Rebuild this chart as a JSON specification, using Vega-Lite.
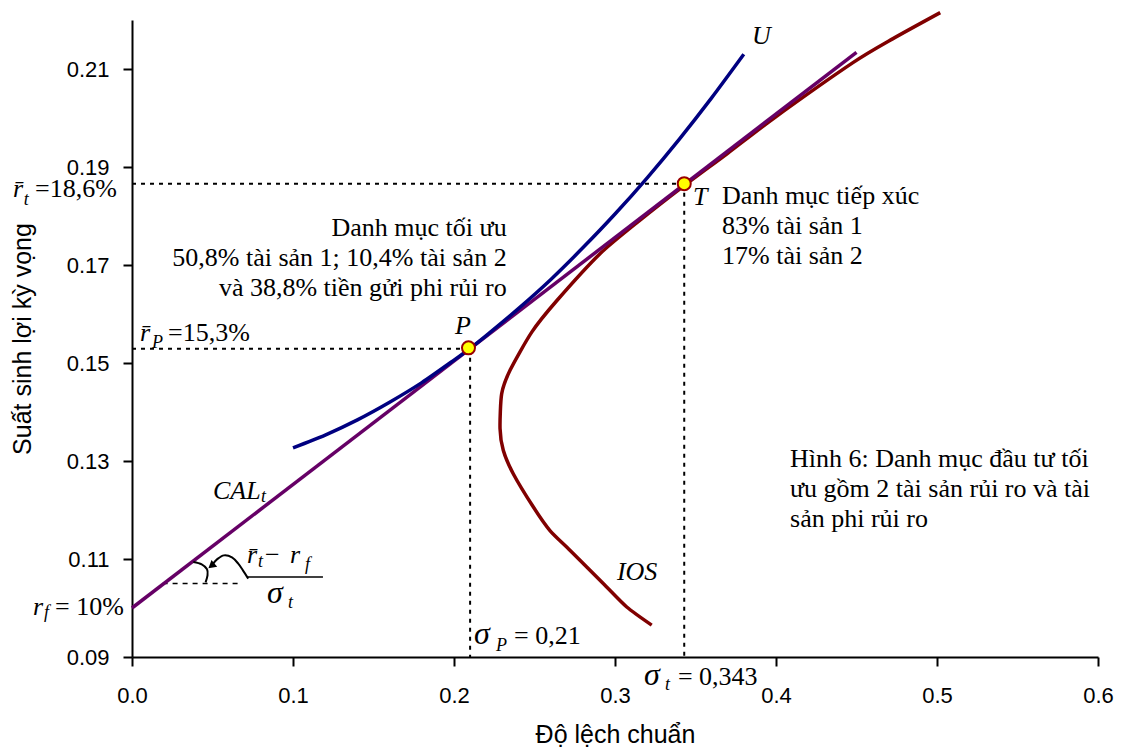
{
  "$schema": "https://vega.github.io/schema/vega-lite/v6.json",
  "width": 966,
  "height": 637,
  "autosize": "none",
  "padding": {"left": 132, "top": 20, "right": 24, "bottom": 94},
  "background": "white",
  "config": {"view": {"stroke": null}},
  "datasets": {
    "ios": [
      {"sd": 0.3228, "ret": 0.0965}, {"sd": 0.3073, "ret": 0.1002}, {"sd": 0.2927, "ret": 0.1050},
      {"sd": 0.2720, "ret": 0.1118}, {"sd": 0.2596, "ret": 0.1158}, {"sd": 0.2493, "ret": 0.1206},
      {"sd": 0.2368, "ret": 0.1274}, {"sd": 0.2306, "ret": 0.1322}, {"sd": 0.2286, "ret": 0.1366},
      {"sd": 0.2296, "ret": 0.1437}, {"sd": 0.2348, "ret": 0.1485}, {"sd": 0.2483, "ret": 0.1563},
      {"sd": 0.2638, "ret": 0.1627}, {"sd": 0.2907, "ret": 0.1723}, {"sd": 0.3150, "ret": 0.1790},
      {"sd": 0.3430, "ret": 0.1862}, {"sd": 0.3700, "ret": 0.1928}, {"sd": 0.3980, "ret": 0.1998},
      {"sd": 0.4478, "ret": 0.2113}, {"sd": 0.4727, "ret": 0.2162}, {"sd": 0.5020, "ret": 0.2215}
    ],
    "cal": [{"sd": 0, "ret": 0.1}, {"sd": 0.45, "ret": 0.2134}],
    "u": [
      {"sd": 0.10, "ret": 0.1327}, {"sd": 0.12, "ret": 0.1353}, {"sd": 0.14, "ret": 0.1384},
      {"sd": 0.16, "ret": 0.1420}, {"sd": 0.18, "ret": 0.1460}, {"sd": 0.20, "ret": 0.1506},
      {"sd": 0.21, "ret": 0.1530}, {"sd": 0.22, "ret": 0.1556}, {"sd": 0.24, "ret": 0.1611},
      {"sd": 0.26, "ret": 0.1670}, {"sd": 0.28, "ret": 0.1735}, {"sd": 0.30, "ret": 0.1804},
      {"sd": 0.32, "ret": 0.1878}, {"sd": 0.34, "ret": 0.1957}, {"sd": 0.36, "ret": 0.2041},
      {"sd": 0.38, "ret": 0.2130}
    ],
    "dots": [
      {"seg": "a", "sd": 0, "ret": 0.1866}, {"seg": "a", "sd": 0.343, "ret": 0.1866},
      {"seg": "b", "sd": 0.343, "ret": 0.1866}, {"seg": "b", "sd": 0.343, "ret": 0.09},
      {"seg": "c", "sd": 0, "ret": 0.1529}, {"seg": "c", "sd": 0.209, "ret": 0.1529},
      {"seg": "d", "sd": 0.21, "ret": 0.1529}, {"seg": "d", "sd": 0.21, "ret": 0.09}
    ],
    "slopedash": [{"sd": 0.019, "ret": 0.105}, {"sd": 0.066, "ret": 0.105}],
    "ann": [
      {"seg": "arc", "k": 1, "sd": 0.0381, "ret": 0.10937},
      {"seg": "arc", "k": 2, "sd": 0.0433, "ret": 0.10890},
      {"seg": "arc", "k": 3, "sd": 0.0466, "ret": 0.10789},
      {"seg": "arc", "k": 4, "sd": 0.0469, "ret": 0.10666},
      {"seg": "arc", "k": 5, "sd": 0.0457, "ret": 0.10523},
      {"seg": "arr", "k": 1, "sd": 0.0722, "ret": 0.10599},
      {"seg": "arr", "k": 2, "sd": 0.0689, "ret": 0.10768},
      {"seg": "arr", "k": 3, "sd": 0.0660, "ret": 0.10905},
      {"seg": "arr", "k": 4, "sd": 0.0621, "ret": 0.11033},
      {"seg": "arr", "k": 5, "sd": 0.0571, "ret": 0.11074},
      {"seg": "arr", "k": 6, "sd": 0.0528, "ret": 0.10992},
      {"seg": "arr", "k": 7, "sd": 0.0503, "ret": 0.10900}
    ],
    "bar": [{"sd": 0.0720, "ret": 0.10632}, {"sd": 0.1186, "ret": 0.10632}],
    "head": [{"sd": 0.0493, "ret": 0.10860}],
    "pts": [{"name": "P", "sd": 0.209, "ret": 0.1531}, {"name": "T", "sd": 0.343, "ret": 0.1866}],
    "italic": [
      {"label": "r̄", "sd": -0.0739, "ret": 0.18395},
      {"label": "r", "sd": -0.0615, "ret": 0.0985},
      {"label": "r̄", "sd": 0.0050, "ret": 0.15459},
      {"label": "CAL", "sd": 0.0503, "ret": 0.12230},
      {"label": "U", "sd": 0.3851, "ret": 0.21510},
      {"label": "T", "sd": 0.3484, "ret": 0.18232},
      {"label": "P", "sd": 0.2006, "ret": 0.15601},
      {"label": "IOS", "sd": 0.3012, "ret": 0.10564},
      {"label": "r̄", "sd": 0.0714, "ret": 0.10911},
      {"label": "r", "sd": 0.0981, "ret": 0.10911}
    ],
    "sigma": [
      {"label": "σ", "sd": 0.2124, "ret": 0.09273},
      {"label": "σ", "sd": 0.3180, "ret": 0.08423},
      {"label": "σ", "sd": 0.0839, "ret": 0.10095}
    ],
    "sub": [
      {"label": "t", "sd": -0.0672, "ret": 0.18232},
      {"label": "f", "sd": -0.0547, "ret": 0.09789},
      {"label": "P", "sd": 0.0124, "ret": 0.15296},
      {"label": "P", "sd": 0.2261, "ret": 0.09116},
      {"label": "t", "sd": 0.3311, "ret": 0.08321},
      {"label": "t", "sd": 0.0801, "ret": 0.12161},
      {"label": "t", "sd": 0.0783, "ret": 0.10829},
      {"label": "f", "sd": 0.1075, "ret": 0.10768},
      {"label": "t", "sd": 0.0969, "ret": 0.09993}
    ],
    "plain": [
      {"label": "=18,6%", "sd": -0.0602, "ret": 0.18395},
      {"label": "= 10%", "sd": -0.0478, "ret": 0.0985},
      {"label": "=15,3%", "sd": 0.0224, "ret": 0.15459},
      {"label": "= 0,21", "sd": 0.2373, "ret": 0.09273},
      {"label": "= 0,343", "sd": 0.3391, "ret": 0.08423},
      {"label": "−", "sd": 0.0826, "ret": 0.10911},
      {"label": "Danh mục tiếp xúc\n83% tài sản 1\n17% tài sản 2", "sd": 0.3665, "ret": 0.18247},
      {"label": "Hình 6: Danh mục đầu tư tối\nưu gồm 2 tài sản rủi ro và tài\nsản phi rủi ro", "sd": 0.4087, "ret": 0.12875}
    ],
    "right": [
      {"label": "Danh mục tối ưu\n50,8% tài sản 1; 10,4% tài sản 2\nvà 38,8% tiền gửi phi rủi ro", "sd": 0.2327, "ret": 0.17600}
    ]
  },
  "encoding": {
    "x": {
      "field": "sd", "type": "quantitative",
      "scale": {"domain": [0, 0.6], "nice": false, "zero": false},
      "axis": {
        "title": "Độ lệch chuẩn", "values": [0, 0.1, 0.2, 0.3, 0.4, 0.5, 0.6], "format": ".1f",
        "grid": false, "tickSize": 9, "tickWidth": 2, "domainWidth": 2,
        "domainColor": "black", "tickColor": "black", "labelColor": "black",
        "labelFont": "Liberation Sans", "labelFontSize": 22, "labelPadding": 19,
        "labelFlush": false, "labelOverlap": false, "labelBound": false,
        "titleFont": "Liberation Sans", "titleFontSize": 25, "titleFontWeight": "normal",
        "titleColor": "black", "titlePadding": 16
      }
    },
    "y": {
      "field": "ret", "type": "quantitative",
      "scale": {"domain": [0.09, 0.22], "nice": false, "zero": false},
      "axis": {
        "title": "Suất sinh lợi kỳ vọng", "values": [0.09, 0.11, 0.13, 0.15, 0.17, 0.19, 0.21], "format": ".2f",
        "grid": false, "tickSize": 9, "tickWidth": 2, "domainWidth": 2,
        "domainColor": "black", "tickColor": "black", "labelColor": "black",
        "labelFont": "Liberation Sans", "labelFontSize": 22, "labelPadding": 14,
        "labelOverlap": false, "labelBound": false,
        "titleFont": "Liberation Sans", "titleFontSize": 25, "titleFontWeight": "normal",
        "titleColor": "black", "titlePadding": 31
      }
    }
  },
  "layer": [
    {"data": {"name": "dots"}, "mark": {"type": "line", "color": "black", "strokeWidth": 2, "strokeDash": [4, 5]}, "encoding": {"detail": {"field": "seg"}}},
    {"data": {"name": "slopedash"}, "mark": {"type": "line", "color": "black", "strokeWidth": 1.5, "strokeDash": [5, 5]}, "encoding": {}},
    {"data": {"name": "ios"}, "mark": {"type": "line", "color": "#800000", "strokeWidth": 3.5, "interpolate": "cardinal", "tension": 0.3}, "encoding": {"order": {"field": "ret", "type": "quantitative"}}},
    {"data": {"name": "cal"}, "mark": {"type": "line", "color": "#660066", "strokeWidth": 3.5}, "encoding": {}},
    {"data": {"name": "u"}, "mark": {"type": "line", "color": "#000080", "strokeWidth": 3.5, "interpolate": "cardinal", "tension": 0.3}, "encoding": {}},
    {"data": {"name": "ann"}, "mark": {"type": "line", "color": "black", "strokeWidth": 2, "interpolate": "cardinal"}, "encoding": {"detail": {"field": "seg"}, "order": {"field": "k", "type": "quantitative"}}},
    {"data": {"name": "bar"}, "mark": {"type": "line", "color": "black", "strokeWidth": 1.5}, "encoding": {}},
    {"data": {"name": "head"}, "mark": {"type": "point", "shape": "triangle-left", "angle": 320, "filled": true, "color": "black", "size": 80, "opacity": 1}},
    {"data": {"name": "pts"}, "mark": {"type": "point", "shape": "circle", "fill": "#FFFF00", "stroke": "#990000", "strokeWidth": 2, "size": 170, "opacity": 1, "fillOpacity": 1}},
    {"data": {"name": "italic"}, "mark": {"type": "text", "font": "Liberation Serif", "fontStyle": "italic", "fontSize": 26, "align": "left", "baseline": "alphabetic", "color": "black"}, "encoding": {"text": {"field": "label"}}},
    {"data": {"name": "sigma"}, "mark": {"type": "text", "font": "Liberation Serif", "fontStyle": "italic", "fontSize": 32, "align": "left", "baseline": "alphabetic", "color": "black"}, "encoding": {"text": {"field": "label"}}},
    {"data": {"name": "sub"}, "mark": {"type": "text", "font": "Liberation Serif", "fontStyle": "italic", "fontSize": 18, "align": "left", "baseline": "alphabetic", "color": "black"}, "encoding": {"text": {"field": "label"}}},
    {"data": {"name": "plain"}, "mark": {"type": "text", "font": "Liberation Serif", "fontSize": 26, "align": "left", "baseline": "alphabetic", "lineBreak": "\n", "lineHeight": 30, "color": "black"}, "encoding": {"text": {"field": "label"}}},
    {"data": {"name": "right"}, "mark": {"type": "text", "font": "Liberation Serif", "fontSize": 26, "align": "right", "baseline": "alphabetic", "lineBreak": "\n", "lineHeight": 30, "color": "black"}, "encoding": {"text": {"field": "label"}}}
  ]
}
